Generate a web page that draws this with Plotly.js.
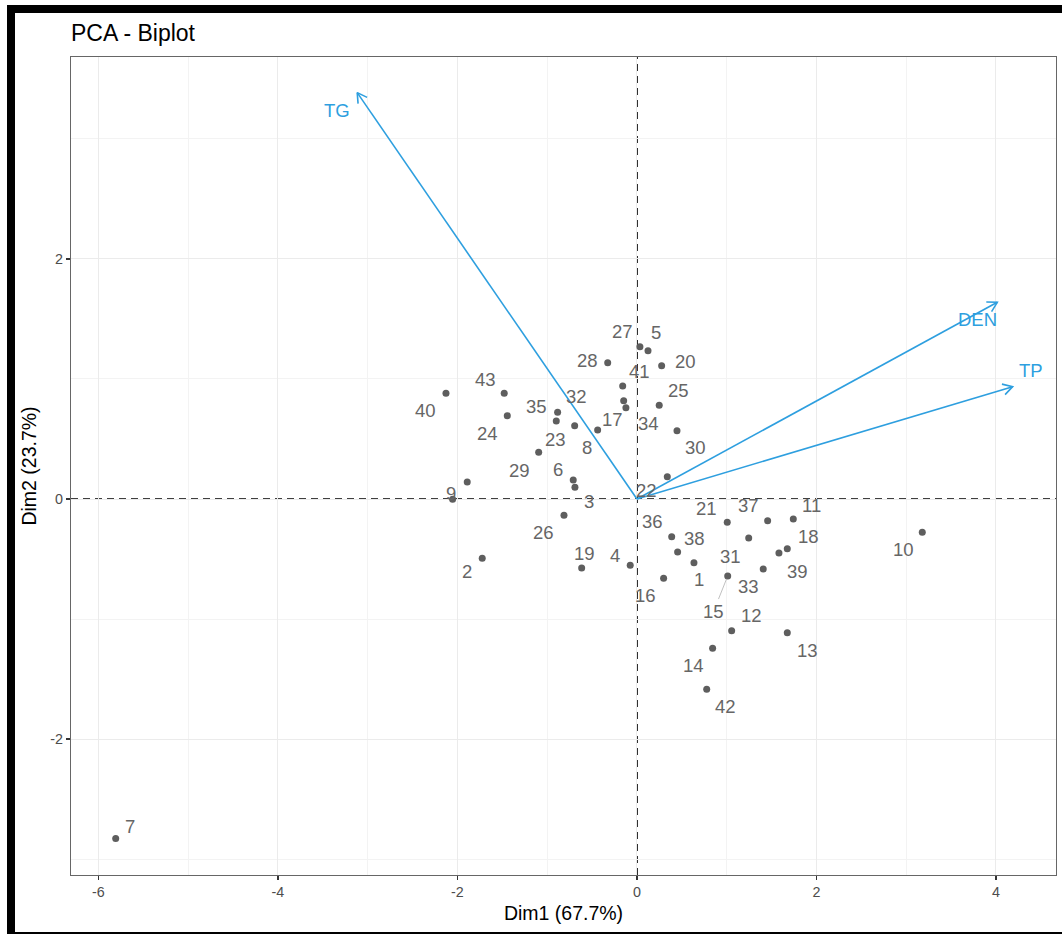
<!DOCTYPE html>
<html>
<head>
<meta charset="utf-8">
<script src="https://cdn.plot.ly/plotly-3.0.1.min.js"></script>
<style>
html,body{margin:0;padding:0;background:#fff;}
#wrap{position:relative;width:1062px;height:935px;overflow:hidden;background:#fff;}
#chart{position:absolute;left:0;top:0;width:1062px;height:935px;}
#frame{position:absolute;left:7px;top:5px;width:1070px;height:929px;box-sizing:border-box;border-top:8px solid #000;border-left:8px solid #000;border-bottom:2px solid #000;pointer-events:none;}
</style>
</head>
<body>
<div id="wrap"><div id="chart"></div><div id="frame"></div></div>
<script>
// ---- Data (individual coordinates on Dim1 / Dim2) ----
const individuals = ["1","2","3","4","5","6","7","8","9","10","11","12","13","14","15","16","17","18","19","20","21","22","23","24","25","26","27","28","29","30","31","32","33","34","35","36","37","38","39","40","41","42","43","44"];
const dim1 = [0.635,-1.724,-0.691,-0.075,0.123,-0.710,-5.808,-0.438,-1.891,3.179,1.742,1.055,1.675,0.843,1.011,0.297,-0.148,1.675,-0.616,0.275,1.006,0.338,-0.694,-1.445,0.248,-0.813,0.033,-0.326,-1.095,0.446,1.245,-0.884,1.407,-0.123,-0.899,0.387,1.456,0.453,1.582,-2.128,-0.159,0.777,-1.479,-2.054];
const dim2 = [-0.531,-0.494,0.098,-0.553,1.236,0.158,-2.828,0.575,0.142,-0.278,-0.167,-1.098,-1.114,-1.244,-0.642,-0.661,0.819,-0.414,-0.575,1.111,-0.194,0.186,0.611,0.694,0.781,-0.136,1.269,1.136,0.389,0.569,-0.325,0.723,-0.583,0.761,0.650,-0.314,-0.181,-0.442,-0.450,0.881,0.942,-1.586,0.881,-0.003];
// label not drawn in the reference (dropped by label repulsion)
const hiddenLabels = ["44"];

// ---- Variables (arrows) ----
const variables = ["TG","DEN","TP"];
const varDim1 = [-3.117, 4.015, 4.186];
const varDim2 = [3.386, 1.639, 0.936];

// ---- Axis ticks ----
const xTicks = [-6,-4,-2,0,2,4];
const yTicks = [-2,0,2];
const xMinorTicks = [-5,-3,-1,1,3];
const yMinorTicks = [-3,-1,1,3];

const chartTitle = "PCA - Biplot";
const xTitle = "Dim1 (67.7%)";
const yTitle = "Dim2 (23.7%)";

// ---- Layout / label placement (pixel offsets of repelled labels, not data) ----
const labelOffsets = {
 "1":[5,17],"2":[-15,13],"3":[14,14],"4":[-15,-10],"5":[8,-18],"6":[-15,-11],"7":[14,-12],"8":[-11,17],
 "9":[-16,12],"10":[-19,17],"11":[18,-14],"12":[20,-15],"13":[20,18],"14":[-19,17],"15":[-14,35],"16":[-18,17],
 "17":[-11,19],"18":[21,-12],"19":[3,-15],"20":[24,-4],"21":[-21,-14],"22":[-21,14],"23":[-19,14],"24":[-20,18],
 "25":[19,-15],"26":[-20,17],"27":[-17,-15],"28":[-20,-2],"29":[-19,18],"30":[19,17],"31":[-18,18],"32":[19,-16],
 "33":[-15,18],"34":[23,16],"35":[-20,-15],"36":[-19,-15],"37":[-19,-15],"38":[17,-14],"39":[19,18],"40":[-20,17],
 "41":[17,-14],"42":[19,17],"43":[-19,-14]
};
const leaderLabels = ["15"];
const varLabelOffsets = {"TG":[-20,18],"DEN":[-20,17],"TP":[18,-16]};

const W = 1062, H = 935;
const margin = {l:71, r:6, t:57, b:60, pad:0};
const xRange = [-6.306, 4.669];
const yRange = [-3.133, 3.683];
const plotW = W - margin.l - margin.r;
const plotH = H - margin.t - margin.b;
const sx = plotW / (xRange[1]-xRange[0]);
const sy = plotH / (yRange[1]-yRange[0]);

const FONT = "Liberation Sans, Arial, Helvetica, sans-serif";
const BLUE = "#2E9FDF";
const GREY_PT = "#5e5e5e";
const GREY_TXT = "#666666";

const traces = [];
traces.push({
  type:"scatter", mode:"markers", x:dim1, y:dim2, text:individuals,
  marker:{size:7, color:GREY_PT}, hoverinfo:"text", showlegend:false
});

// arrows: shaft + open head, head computed in pixel space from the vector
const headLen = 11, headAng = Math.PI/6;
variables.forEach((v,i)=>{
  const vx = varDim1[i], vy = varDim2[i];
  const th = Math.atan2(vy*sy, vx*sx);
  const hx = [], hy = [];
  [headAng, -headAng].forEach(a=>{
    hx.push(vx - headLen*Math.cos(th+a)/sx);
    hy.push(vy - headLen*Math.sin(th+a)/sy);
  });
  traces.push({
    type:"scatter", mode:"lines",
    x:[0, vx, null, hx[0], vx, hx[1]],
    y:[0, vy, null, hy[0], vy, hy[1]],
    line:{color:BLUE, width:1.6}, hoverinfo:"skip", showlegend:false
  });
});

const annotations = [];
individuals.forEach((lab,i)=>{
  if (hiddenLabels.includes(lab)) return;
  const off = labelOffsets[lab] || [0,0];
  if (leaderLabels.includes(lab)) {
    annotations.push({x:dim1[i], y:dim2[i], xref:"x", yref:"y", text:lab,
      showarrow:true, ax:off[0], ay:off[1], arrowhead:0, arrowwidth:0.8, arrowcolor:"#b0b0b0",
      standoff:3, font:{family:FONT, size:18.5, color:GREY_TXT}});
  } else {
    annotations.push({x:dim1[i], y:dim2[i], xref:"x", yref:"y", text:lab, showarrow:false,
      xshift:off[0], yshift:-off[1], xanchor:"center", yanchor:"middle",
      font:{family:FONT, size:18.5, color:GREY_TXT}});
  }
});
variables.forEach((v,i)=>{
  const off = varLabelOffsets[v];
  annotations.push({x:varDim1[i], y:varDim2[i], xref:"x", yref:"y", text:v, showarrow:false,
    xshift:off[0], yshift:-off[1], xanchor:"center", yanchor:"middle",
    font:{family:FONT, size:18.5, color:BLUE}});
});

const layout = {
  width:W, height:H, margin:margin,
  paper_bgcolor:"#ffffff", plot_bgcolor:"#ffffff",
  font:{family:FONT, color:"#000"},
  title:{text:chartTitle, x:0, xref:"paper", xanchor:"left", y:1-33/H, yref:"container", yanchor:"middle",
    font:{family:FONT, size:23, color:"#000"}},
  showlegend:false,
  xaxis:{range:xRange, tickvals:xTicks, ticktext:xTicks.map(String), zeroline:false,
    showgrid:true, gridcolor:"#ebebeb", gridwidth:1,
    minor:{tickvals:xMinorTicks, showgrid:true, gridcolor:"#f3f3f3", gridwidth:1, ticks:""},
    showline:true, mirror:true, linecolor:"#666", linewidth:1.2,
    ticks:"outside", ticklen:4, tickwidth:1.1, tickcolor:"#333",
    tickfont:{family:FONT, size:14.3, color:"#4d4d4d"},
    title:{text:xTitle, standoff:7, font:{family:FONT, size:19.5, color:"#000"}},
    automargin:false, fixedrange:true},
  yaxis:{range:yRange, tickvals:yTicks, ticktext:yTicks.map(String), zeroline:false,
    showgrid:true, gridcolor:"#ebebeb", gridwidth:1,
    minor:{tickvals:yMinorTicks, showgrid:true, gridcolor:"#f3f3f3", gridwidth:1, ticks:""},
    showline:true, mirror:true, linecolor:"#666", linewidth:1.2,
    ticks:"outside", ticklen:4, tickwidth:1.1, tickcolor:"#333",
    tickfont:{family:FONT, size:14.3, color:"#4d4d4d"},
    title:{text:yTitle, standoff:8, font:{family:FONT, size:19.5, color:"#000"}},
    automargin:false, fixedrange:true},
  shapes:[
    {type:"line", xref:"x", yref:"paper", x0:0, x1:0, y0:0, y1:1, layer:"between",
      line:{color:"#000", width:1.7, dash:"7px,5px"}},
    {type:"line", xref:"paper", yref:"y", x0:0, x1:1, y0:0, y1:0, layer:"between",
      line:{color:"#000", width:1.7, dash:"7px,5px"}}
  ],
  annotations:annotations
};

Plotly.newPlot("chart", traces, layout, {displayModeBar:false, staticPlot:true});
</script>
</body>
</html>
